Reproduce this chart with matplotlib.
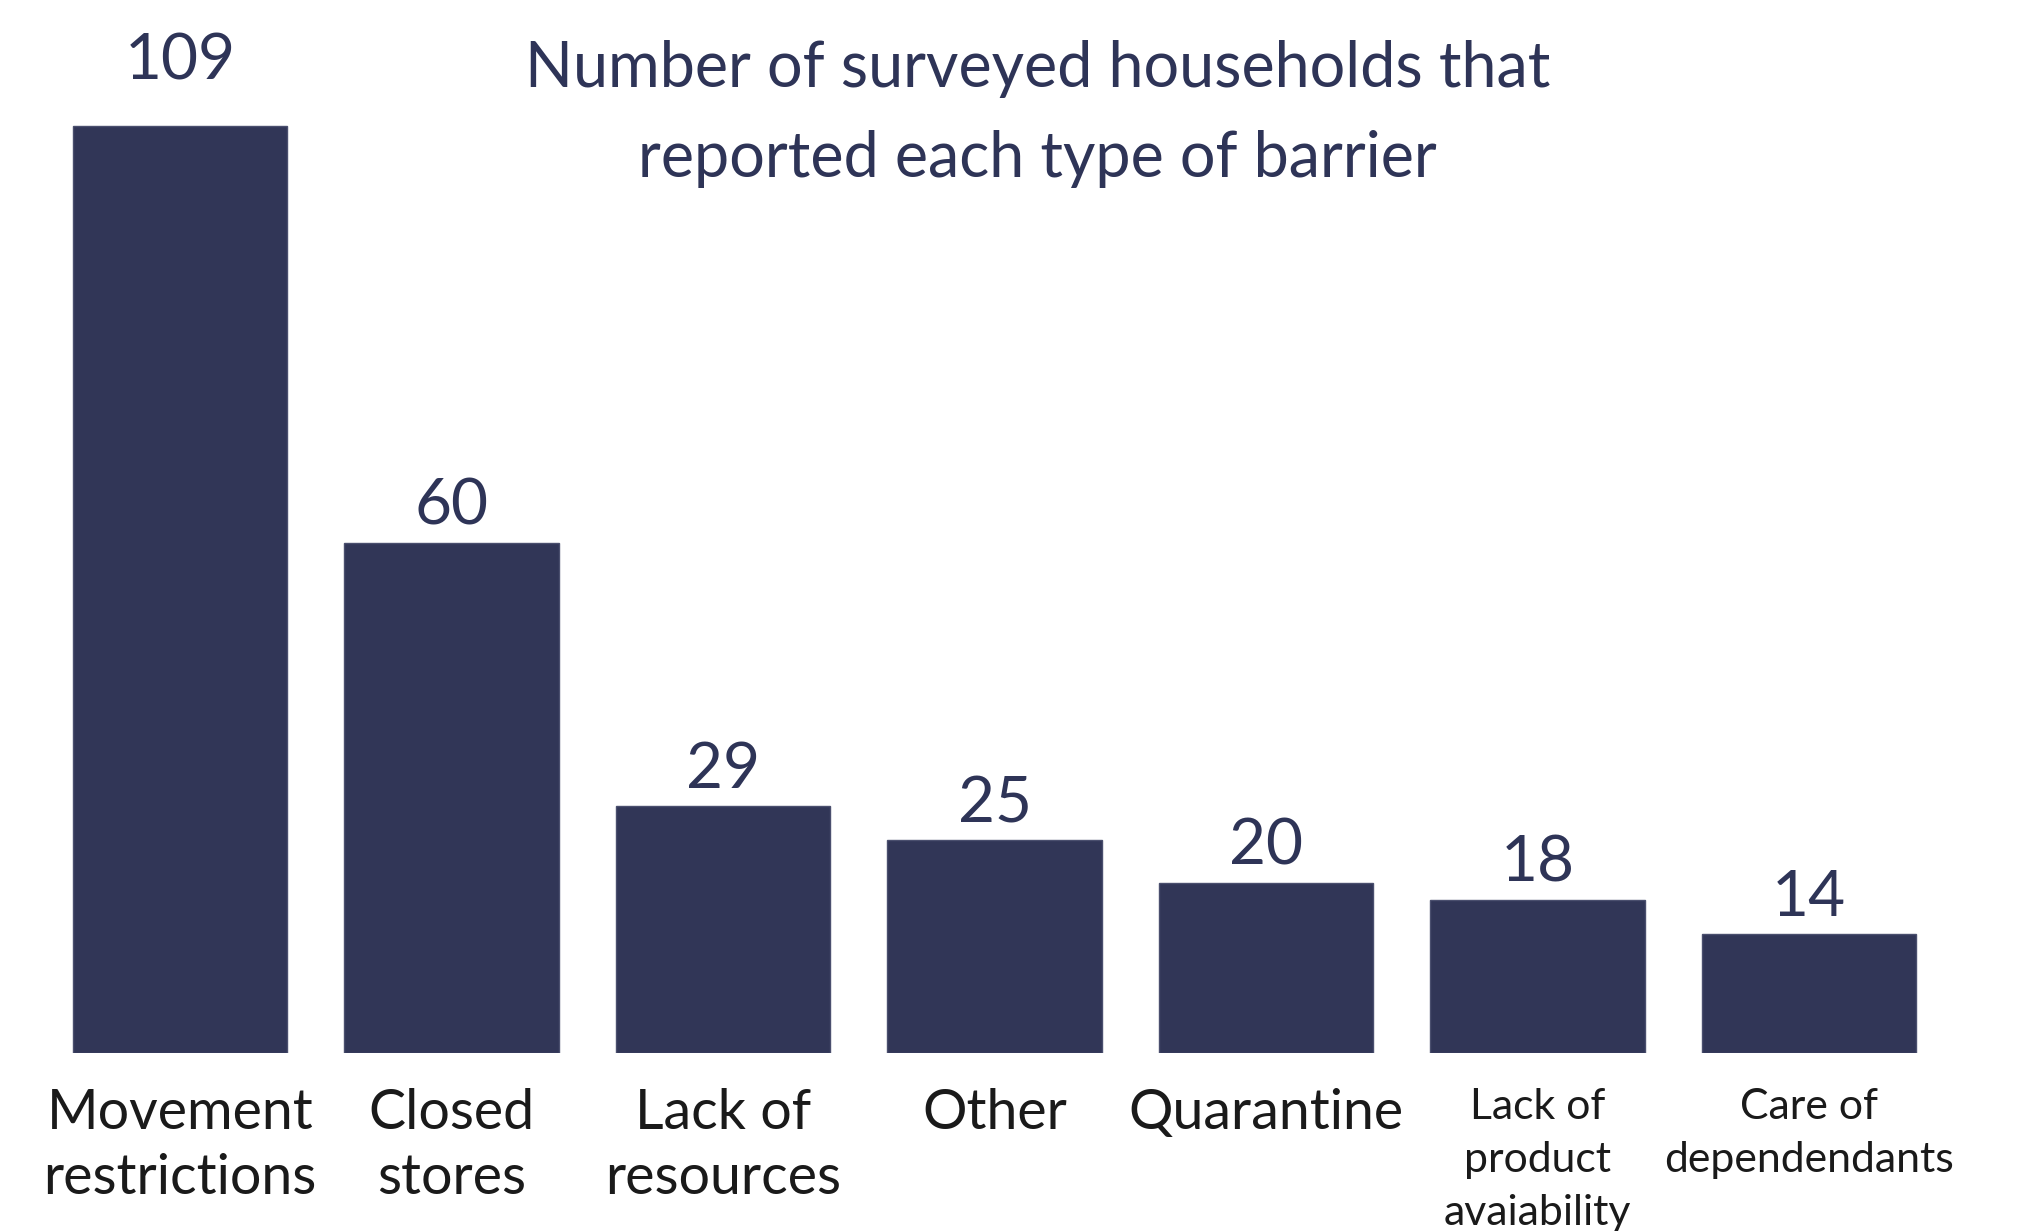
import numpy as np
from matplotlib import pyplot as plt

# Данные
categories = ['Movement\nrestrictions', 'Closed\nstores', 'Lack of\nresources', 'Other',
              'Quarantine', 'Lack of\nproduct\navaiability', 'Care of\ndependendants']
values = [109, 60, 29, 25, 20, 18, 14]

bar_color = '#313657'
text_color = '#2e3457'

plt.rcParams['font.family'] = ['Lato', 'DejaVu Sans']

fig = plt.figure(figsize=(20.27, 12.31), dpi=100)
ax = fig.add_axes([0.0219, 0.1446, 0.9376, 0.8286])

x = np.arange(len(values))
ax.bar(x, values, width=0.79, color=bar_color, edgecolor='#4a4f6e', linewidth=1)
ax.set_xlim(-0.5, len(values) - 0.5)
ax.set_ylim(0, 120)

# Подписи значений над столбцами
for xi, v in zip(x, values):
    off = 34 if v == max(values) else 13
    ax.annotate(str(v), (xi, v), xytext=(0, off), textcoords='offset points',
                ha='center', va='baseline', fontsize=46, color=text_color,
                annotation_clip=False)

# Подписи категорий
ax.set_xticks(x)
ax.set_xticklabels(categories)
for lbl in ax.get_xticklabels():
    n_lines = lbl.get_text().count('\n') + 1
    if n_lines > 2 or 'Care' in lbl.get_text():
        lbl.set_fontsize(30.8)
        lbl.set_linespacing(1.49)
    else:
        lbl.set_fontsize(40)
        lbl.set_linespacing(1.35)
    lbl.set_color('#1a1a1a')
ax.tick_params(axis='x', length=0, pad=25)
ax.set_yticks([])
for s in ax.spines.values():
    s.set_visible(False)

fig.text(0.512, 1 - 114 / 1231, 'Number of surveyed households that\nreported each type of barrier',
         ha='center', va='center', fontsize=45.3, color=text_color, linespacing=1.68)

fig.savefig('out.png', dpi=100)
